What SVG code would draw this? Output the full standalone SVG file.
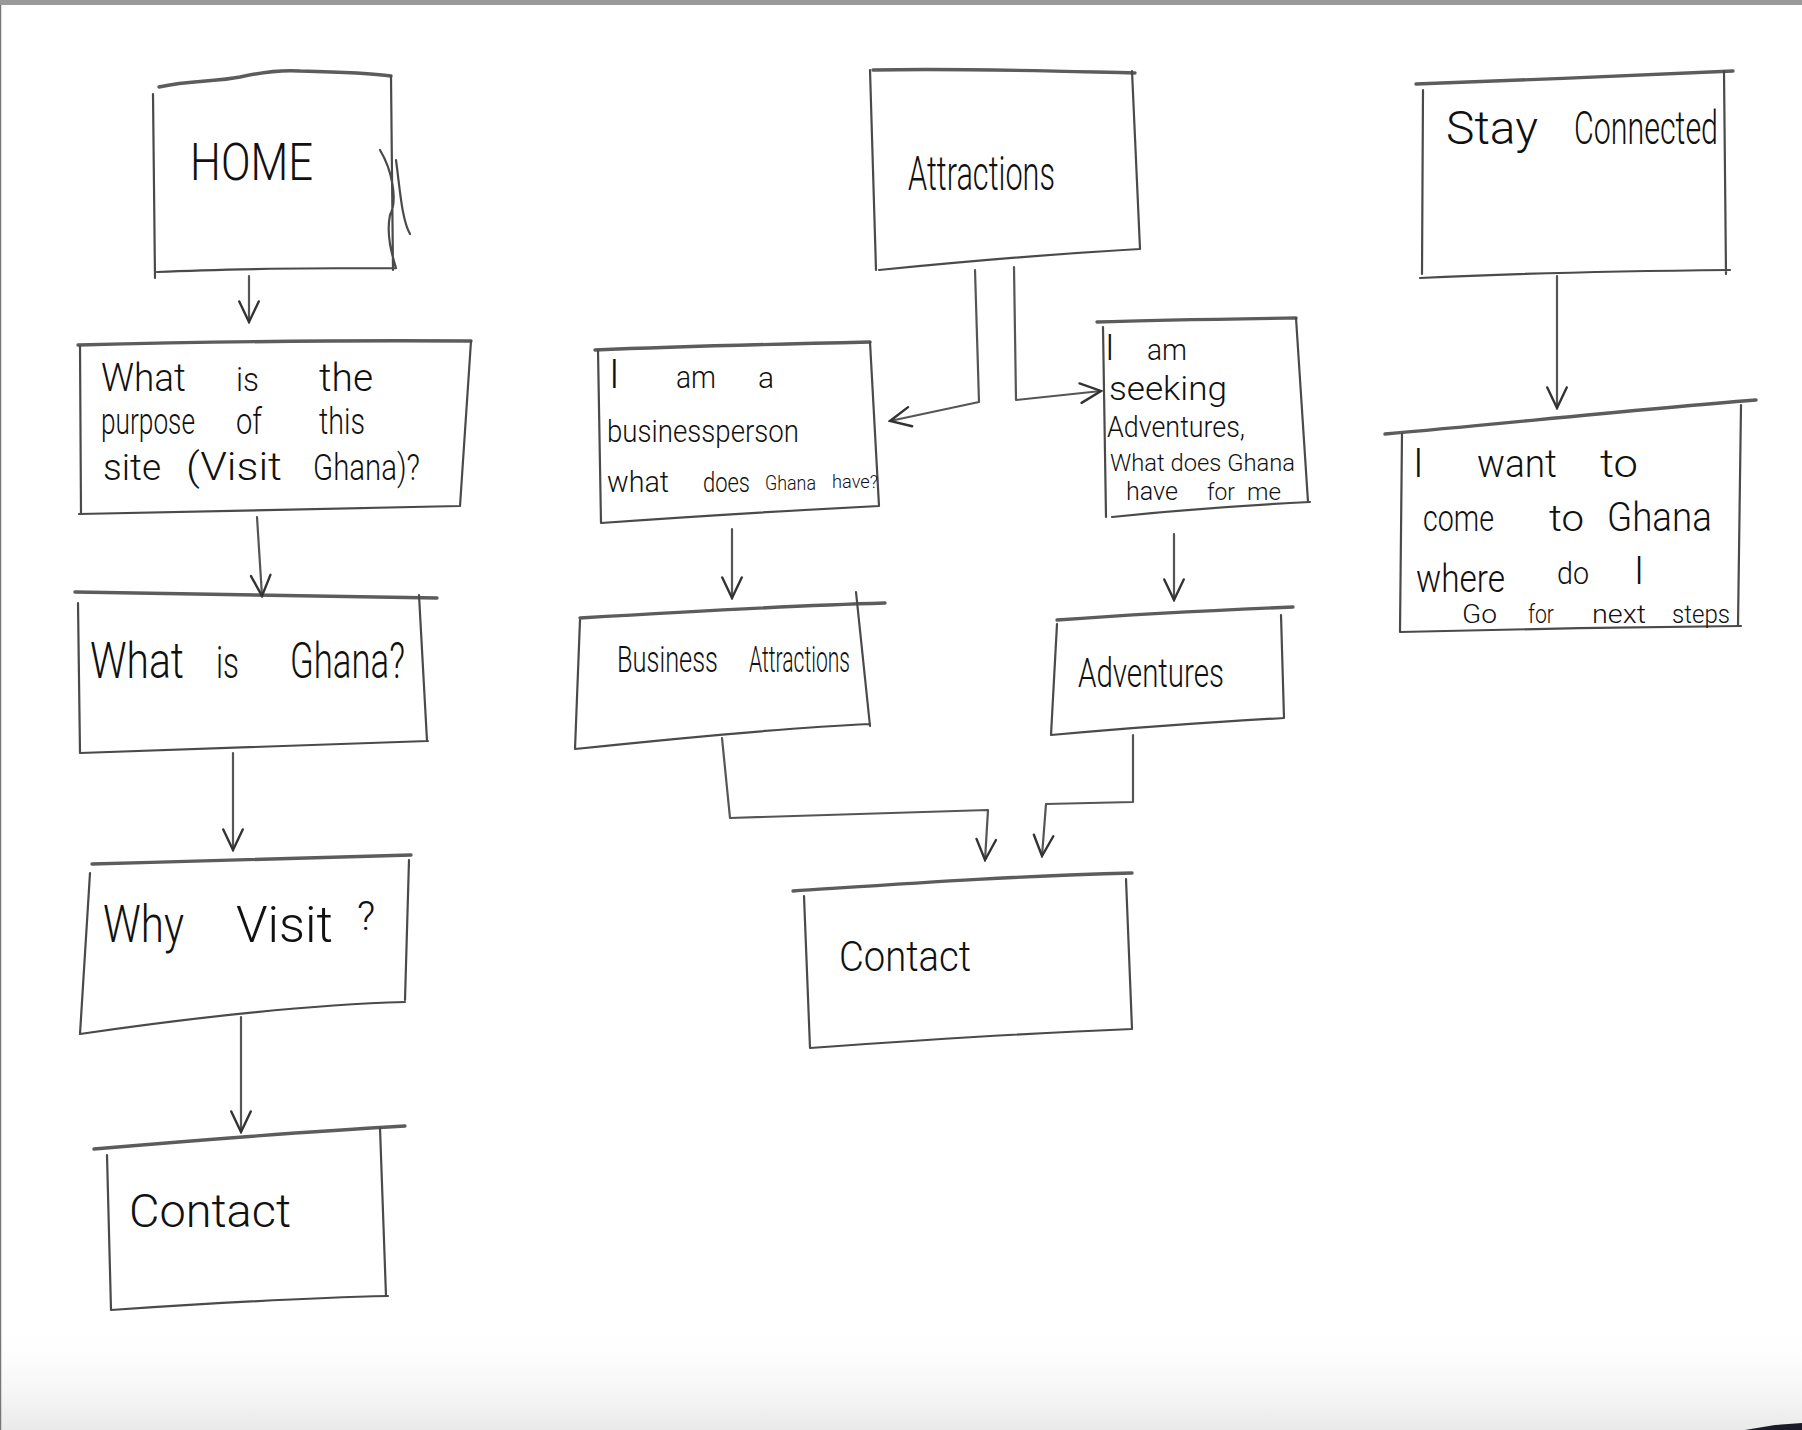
<svg xmlns="http://www.w3.org/2000/svg" width="1802" height="1430" viewBox="0 0 1802 1430">
<defs>
<style>
.b{fill:none;stroke:#4a4a4a;stroke-width:2.2;stroke-linecap:round;stroke-linejoin:round}
.tp{fill:none;stroke:#5c5c5c;stroke-width:3.4;stroke-linecap:round}
.c{fill:none;stroke:#555;stroke-width:2.2;stroke-linecap:round;stroke-linejoin:round}
.t{font-family:Roboto,"Liberation Sans",sans-serif;font-weight:300;fill:#111}
</style>
<marker id="ah" viewBox="0 0 24 24" refX="22" refY="12" markerWidth="26" markerHeight="26" markerUnits="userSpaceOnUse" orient="auto">
<path d="M3,3 L22,12 L3,21" fill="none" stroke="#333" stroke-width="2.2" stroke-linecap="round"/>
</marker>
<linearGradient id="shade" x1="0" y1="0" x2="0" y2="1">
<stop offset="0" stop-color="#ffffff" stop-opacity="0"/>
<stop offset="1" stop-color="#e9e9e9"/>
</linearGradient>
</defs>
<rect x="0" y="0" width="1802" height="1430" fill="#ffffff"/>
<rect x="0" y="1320" width="1802" height="110" fill="url(#shade)"/>
<rect x="0" y="0" width="1802" height="5" fill="#9a9a9a"/>
<line x1="0.5" y1="5" x2="0.5" y2="1430" stroke="#777" stroke-width="1.5"/>
<path d="M1745,1430 L1775,1425 L1802,1423 L1802,1430 Z" fill="#1a1a2a"/>

<g id="home">
<path class="tp" d="M159,87 C190,80 215,82 240,77 C262,72 285,70 300,71 C340,72 370,73 391,76"/>
<path class="b" d="M153,94 L155,278 M391,76 L393,270 M157,272 C240,268 320,268 396,268 M380,150 C392,170 398,200 390,215 C386,235 392,255 396,268 M396,160 C400,190 402,220 410,234"/>
<text class="t" x="190" y="180" font-size="52" textLength="123" lengthAdjust="spacingAndGlyphs">HOME</text>
</g>

<g id="purpose">
<path class="tp" d="M78,345 C200,342 340,340 471,341"/>
<path class="b" d="M80,346 L81,514 M471,341 L460,506 M79,514 C200,511 330,508 460,506"/>
<text class="t" x="101" y="391" font-size="38" textLength="85" lengthAdjust="spacingAndGlyphs">What</text>
<text class="t" x="236" y="391" font-size="34" textLength="23" lengthAdjust="spacingAndGlyphs">is</text>
<text class="t" x="319" y="391" font-size="38" textLength="54" lengthAdjust="spacingAndGlyphs">the</text>
<text class="t" x="101" y="434" font-size="36" textLength="94" lengthAdjust="spacingAndGlyphs">purpose</text>
<text class="t" x="236" y="434" font-size="36" textLength="26" lengthAdjust="spacingAndGlyphs">of</text>
<text class="t" x="319" y="434" font-size="36" textLength="46" lengthAdjust="spacingAndGlyphs">this</text>
<text class="t" x="103" y="480" font-size="36" textLength="58" lengthAdjust="spacingAndGlyphs">site</text>
<text class="t" x="186" y="480" font-size="38" textLength="96" lengthAdjust="spacingAndGlyphs">(Visit</text>
<text class="t" x="313" y="480" font-size="36" textLength="107" lengthAdjust="spacingAndGlyphs">Ghana)?</text>
</g>

<g id="whatghana">
<path class="tp" d="M75,592 C200,593 320,596 437,598"/>
<path class="b" d="M78,603 L80,753 M419,595 L427,741 M80,753 C200,748 320,744 428,741"/>
<text class="t" x="90" y="678" font-size="50" textLength="94" lengthAdjust="spacingAndGlyphs">What</text>
<text class="t" x="216" y="678" font-size="44" textLength="23" lengthAdjust="spacingAndGlyphs">is</text>
<text class="t" x="290" y="678" font-size="50" textLength="115" lengthAdjust="spacingAndGlyphs">Ghana?</text>
</g>

<g id="whyvisit">
<path class="tp" d="M92,864 C200,861 310,858 411,855"/>
<path class="b" d="M90,873 L80,1034 M409,860 L405,1000 M80,1034 C190,1018 300,1005 405,1002"/>
<text class="t" x="103" y="942" font-size="52" textLength="81" lengthAdjust="spacingAndGlyphs">Why</text>
<text class="t" x="236" y="942" font-size="50" textLength="97" lengthAdjust="spacingAndGlyphs">Visit</text>
<text class="t" x="357" y="930" font-size="40">?</text>
</g>

<g id="contact-left">
<path class="tp" d="M94,1149 C200,1140 300,1132 405,1126"/>
<path class="b" d="M107,1155 L111,1310 M380,1128 L386,1296 M111,1310 C200,1304 300,1298 388,1296"/>
<text class="t" x="129" y="1227" font-size="46" textLength="162" lengthAdjust="spacingAndGlyphs">Contact</text>
</g>

<g id="attractions">
<path class="tp" d="M873,70 C960,68 1050,71 1135,73"/>
<path class="b" d="M870,70 L876,270 M1132,71 L1140,249 M879,270 C960,262 1050,254 1140,249"/>
<text class="t" x="908" y="190" font-size="48" textLength="147" lengthAdjust="spacingAndGlyphs">Attractions</text>
</g>

<g id="businessperson">
<path class="tp" d="M595,350 C690,346 780,344 870,342"/>
<path class="b" d="M598,350 L601,523 M870,342 L879,506 M601,523 C700,516 800,510 879,506"/>
<text class="t" x="609" y="388" font-size="40">I</text>
<text class="t" x="676" y="388" font-size="32" textLength="40" lengthAdjust="spacingAndGlyphs">am</text>
<text class="t" x="758" y="388" font-size="30">a</text>
<text class="t" x="607" y="442" font-size="32" textLength="192" lengthAdjust="spacingAndGlyphs">businessperson</text>
<text class="t" x="607" y="492" font-size="30" textLength="62" lengthAdjust="spacingAndGlyphs">what</text>
<text class="t" x="703" y="492" font-size="28" textLength="47" lengthAdjust="spacingAndGlyphs">does</text>
<text class="t" x="765" y="490" font-size="21" textLength="51" lengthAdjust="spacingAndGlyphs">Ghana</text>
<text class="t" x="832" y="488" font-size="19" textLength="46" lengthAdjust="spacingAndGlyphs">have?</text>
</g>

<g id="seeking">
<path class="tp" d="M1097,322 C1160,320 1230,319 1296,318"/>
<path class="b" d="M1103,327 L1106,517 M1296,318 L1308,502 M1112,517 C1180,510 1250,505 1310,502"/>
<text class="t" x="1105" y="360" font-size="36">I</text>
<text class="t" x="1147" y="360" font-size="30" textLength="40" lengthAdjust="spacingAndGlyphs">am</text>
<text class="t" x="1109" y="400" font-size="34" textLength="118" lengthAdjust="spacingAndGlyphs">seeking</text>
<text class="t" x="1107" y="437" font-size="30" textLength="138" lengthAdjust="spacingAndGlyphs">Adventures,</text>
<text class="t" x="1110" y="471" font-size="24" textLength="185" lengthAdjust="spacingAndGlyphs">What does Ghana</text>
<text class="t" x="1126" y="500" font-size="26" textLength="52" lengthAdjust="spacingAndGlyphs">have</text>
<text class="t" x="1207" y="500" font-size="24" textLength="28" lengthAdjust="spacingAndGlyphs">for</text>
<text class="t" x="1247" y="500" font-size="24" textLength="34" lengthAdjust="spacingAndGlyphs">me</text>
</g>

<g id="business-attractions">
<path class="tp" d="M580,618 C680,612 780,606 885,603"/>
<path class="b" d="M856,592 L870,726 M580,620 L575,749 M575,749 C680,738 780,728 870,724"/>
<text class="t" x="617" y="672" font-size="36" textLength="101" lengthAdjust="spacingAndGlyphs">Business</text>
<text class="t" x="749" y="672" font-size="36" textLength="101" lengthAdjust="spacingAndGlyphs">Attractions</text>
</g>

<g id="adventures">
<path class="tp" d="M1057,620 C1140,614 1220,610 1293,607"/>
<path class="b" d="M1057,624 L1051,735 M1281,615 L1284,718 M1051,735 C1130,728 1210,722 1284,718"/>
<text class="t" x="1078" y="687" font-size="40" textLength="146" lengthAdjust="spacingAndGlyphs">Adventures</text>
</g>

<g id="contact-center">
<path class="tp" d="M793,891 C900,884 1010,876 1132,873"/>
<path class="b" d="M804,896 L810,1048 M1126,879 L1132,1029 M810,1048 C920,1040 1030,1033 1132,1029"/>
<text class="t" x="839" y="971" font-size="42" textLength="132" lengthAdjust="spacingAndGlyphs">Contact</text>
</g>

<g id="stay-connected">
<path class="tp" d="M1416,84 C1520,80 1630,76 1733,71"/>
<path class="b" d="M1423,90 L1422,274 M1724,71 L1726,274 M1420,278 C1520,273 1630,271 1730,270"/>
<text class="t" x="1446" y="144" font-size="46" textLength="92" lengthAdjust="spacingAndGlyphs">Stay</text>
<text class="t" x="1574" y="144" font-size="46" textLength="144" lengthAdjust="spacingAndGlyphs">Connected</text>
</g>

<g id="want-ghana">
<path class="tp" d="M1385,434 C1500,424 1630,410 1756,400"/>
<path class="b" d="M1402,434 L1400,632 M1741,405 L1738,626 M1400,632 C1510,629 1630,627 1741,626"/>
<text class="t" x="1413" y="477" font-size="40">I</text>
<text class="t" x="1477" y="477" font-size="38" textLength="80" lengthAdjust="spacingAndGlyphs">want</text>
<text class="t" x="1600" y="477" font-size="38" textLength="38" lengthAdjust="spacingAndGlyphs">to</text>
<text class="t" x="1423" y="531" font-size="36" textLength="71" lengthAdjust="spacingAndGlyphs">come</text>
<text class="t" x="1549" y="531" font-size="36" textLength="35" lengthAdjust="spacingAndGlyphs">to</text>
<text class="t" x="1607" y="531" font-size="40" textLength="105" lengthAdjust="spacingAndGlyphs">Ghana</text>
<text class="t" x="1416" y="592" font-size="38" textLength="89" lengthAdjust="spacingAndGlyphs">where</text>
<text class="t" x="1557" y="584" font-size="32" textLength="32" lengthAdjust="spacingAndGlyphs">do</text>
<text class="t" x="1634" y="584" font-size="38">I</text>
<text class="t" x="1462" y="623" font-size="26" textLength="35" lengthAdjust="spacingAndGlyphs">Go</text>
<text class="t" x="1528" y="623" font-size="26" textLength="26" lengthAdjust="spacingAndGlyphs">for</text>
<text class="t" x="1592" y="623" font-size="26" textLength="54" lengthAdjust="spacingAndGlyphs">next</text>
<text class="t" x="1672" y="623" font-size="26" textLength="58" lengthAdjust="spacingAndGlyphs">steps</text>
</g>

<g id="connectors">
<path class="c" d="M249,276 L249,322" marker-end="url(#ah)"/>
<path class="c" d="M257,517 L262,596" marker-end="url(#ah)"/>
<path class="c" d="M233,753 L233,850" marker-end="url(#ah)"/>
<path class="c" d="M241,1017 L241,1132" marker-end="url(#ah)"/>
<path class="c" d="M975,270 L979,402 L890,421" marker-end="url(#ah)"/>
<path class="c" d="M1014,267 L1016,400 L1101,391" marker-end="url(#ah)"/>
<path class="c" d="M732,529 L732,598" marker-end="url(#ah)"/>
<path class="c" d="M1174,534 L1174,600" marker-end="url(#ah)"/>
<path class="c" d="M722,738 L730,818 L988,810 L985,860" marker-end="url(#ah)"/>
<path class="c" d="M1133,735 L1133,802 L1046,804 L1042,856" marker-end="url(#ah)"/>
<path class="c" d="M1557,276 L1557,408" marker-end="url(#ah)"/>
</g>
</svg>
